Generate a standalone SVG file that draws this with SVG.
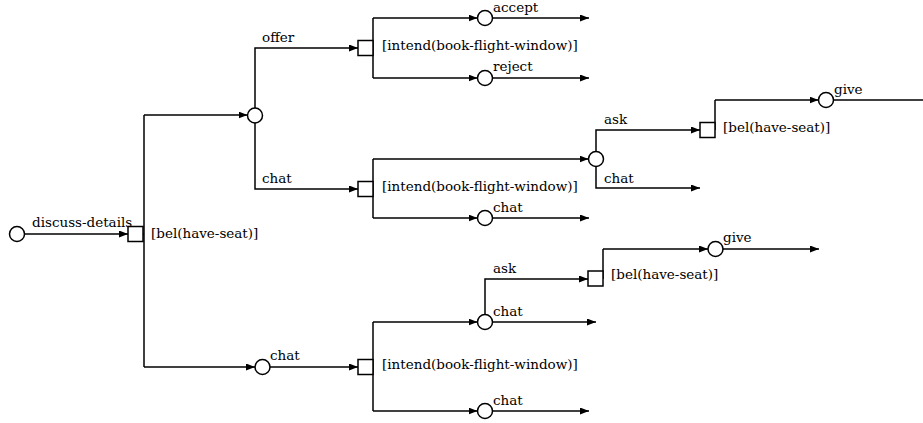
<svg xmlns="http://www.w3.org/2000/svg" width="923" height="423" viewBox="0 0 923 423">
<defs>
<marker id="ah" markerWidth="9" markerHeight="7" refX="9" refY="3.5" orient="auto" markerUnits="userSpaceOnUse">
<path d="M0,0 L9,3.5 L0,7 Z" fill="#000"/>
</marker>
</defs>
<style>
.e{fill:none;stroke:#000;stroke-width:1.5}
.a{marker-end:url(#ah)}
.n{fill:#fff;stroke:#000;stroke-width:1.5}
text{font-family:"DejaVu Serif",serif;font-size:13.5px;fill:#000}
</style>
<rect width="923" height="423" fill="#fff"/>
<g id="connectors">
<path class="e a" d="M24.5,234 H128"/>
<path class="e" d="M143,234 H144 V115 M144,234 V367"/>
<path class="e a" d="M144,115 H247.5"/>
<path class="e a" d="M144,367 H255"/>
<path class="e a" d="M255,108 V48 H358"/>
<path class="e a" d="M255,123 V189 H358"/>
<path class="e" d="M373,48 V18 M373,48 V78"/>
<path class="e a" d="M373,18 H477.5"/>
<path class="e a" d="M373,78 H477.5"/>
<path class="e a" d="M492.5,18 H589"/>
<path class="e a" d="M492.5,78 H589"/>
<path class="e" d="M373,189 V159 M373,189 V218"/>
<path class="e a" d="M373,159 H588.5"/>
<path class="e a" d="M373,218 H477.5"/>
<path class="e a" d="M492.5,218 H589"/>
<path class="e a" d="M596,151.5 V130 H700"/>
<path class="e a" d="M596,166.5 V188 H700"/>
<path class="e" d="M715,130 V100"/>
<path class="e a" d="M715,100 H818.5"/>
<path class="e" d="M833.5,100 H923"/>
<path class="e a" d="M270,367 H358"/>
<path class="e" d="M373,367 V322 M373,367 V411"/>
<path class="e a" d="M373,322 H477.5"/>
<path class="e a" d="M373,411 H477.5"/>
<path class="e a" d="M492.5,322 H596"/>
<path class="e a" d="M492.5,411 H589"/>
<path class="e a" d="M485,314.5 V279 H588"/>
<path class="e" d="M603,279 V249"/>
<path class="e a" d="M603,249 H708"/>
<path class="e a" d="M723,249 H819"/>
</g>
<g id="n1"><circle class="n" cx="17" cy="234" r="7.5"/></g>
<g id="n2"><rect class="n" x="128" y="226.5" width="15" height="15"/><text x="151" y="238">[bel(have-seat)]</text></g>
<g id="n3"><circle class="n" cx="255" cy="115.5" r="7.5"/></g>
<g id="n4"><rect class="n" x="358" y="40.5" width="15" height="15"/><text x="382" y="50">[intend(book-flight-window)]</text></g>
<g id="n5"><circle class="n" cx="485" cy="18" r="7.5"/></g>
<g id="n6"><circle class="n" cx="485" cy="78" r="7.5"/></g>
<g id="n7"><rect class="n" x="358" y="181.5" width="15" height="15"/><text x="382" y="191">[intend(book-flight-window)]</text></g>
<g id="n8"><circle class="n" cx="596" cy="159" r="7.5"/></g>
<g id="n9"><circle class="n" cx="485" cy="218" r="7.5"/></g>
<g id="n10"><rect class="n" x="700" y="122.5" width="15" height="15"/><text x="723" y="132">[bel(have-seat)]</text></g>
<g id="n11"><circle class="n" cx="826" cy="100" r="7.5"/></g>
<g id="n12"><circle class="n" cx="262.5" cy="367" r="7.5"/></g>
<g id="n13"><rect class="n" x="358" y="359.5" width="15" height="15"/><text x="382" y="369">[intend(book-flight-window)]</text></g>
<g id="n14"><circle class="n" cx="485" cy="322" r="7.5"/></g>
<g id="n15"><circle class="n" cx="485" cy="411" r="7.5"/></g>
<g id="n16"><rect class="n" x="588" y="271" width="15" height="15"/><text x="611" y="279">[bel(have-seat)]</text></g>
<g id="n17"><circle class="n" cx="715.5" cy="249" r="7.5"/></g>
<g id="labels">
<text x="32" y="227">discuss-details</text>
<text x="262" y="42">offer</text>
<text x="493" y="12">accept</text>
<text x="493" y="71">reject</text>
<text x="262" y="183">chat</text>
<text x="493" y="212">chat</text>
<text x="604" y="124">ask</text>
<text x="604" y="183">chat</text>
<text x="834" y="94">give</text>
<text x="270" y="360">chat</text>
<text x="493" y="273">ask</text>
<text x="493" y="316">chat</text>
<text x="493" y="405">chat</text>
<text x="723" y="242">give</text>
</g>
</svg>
